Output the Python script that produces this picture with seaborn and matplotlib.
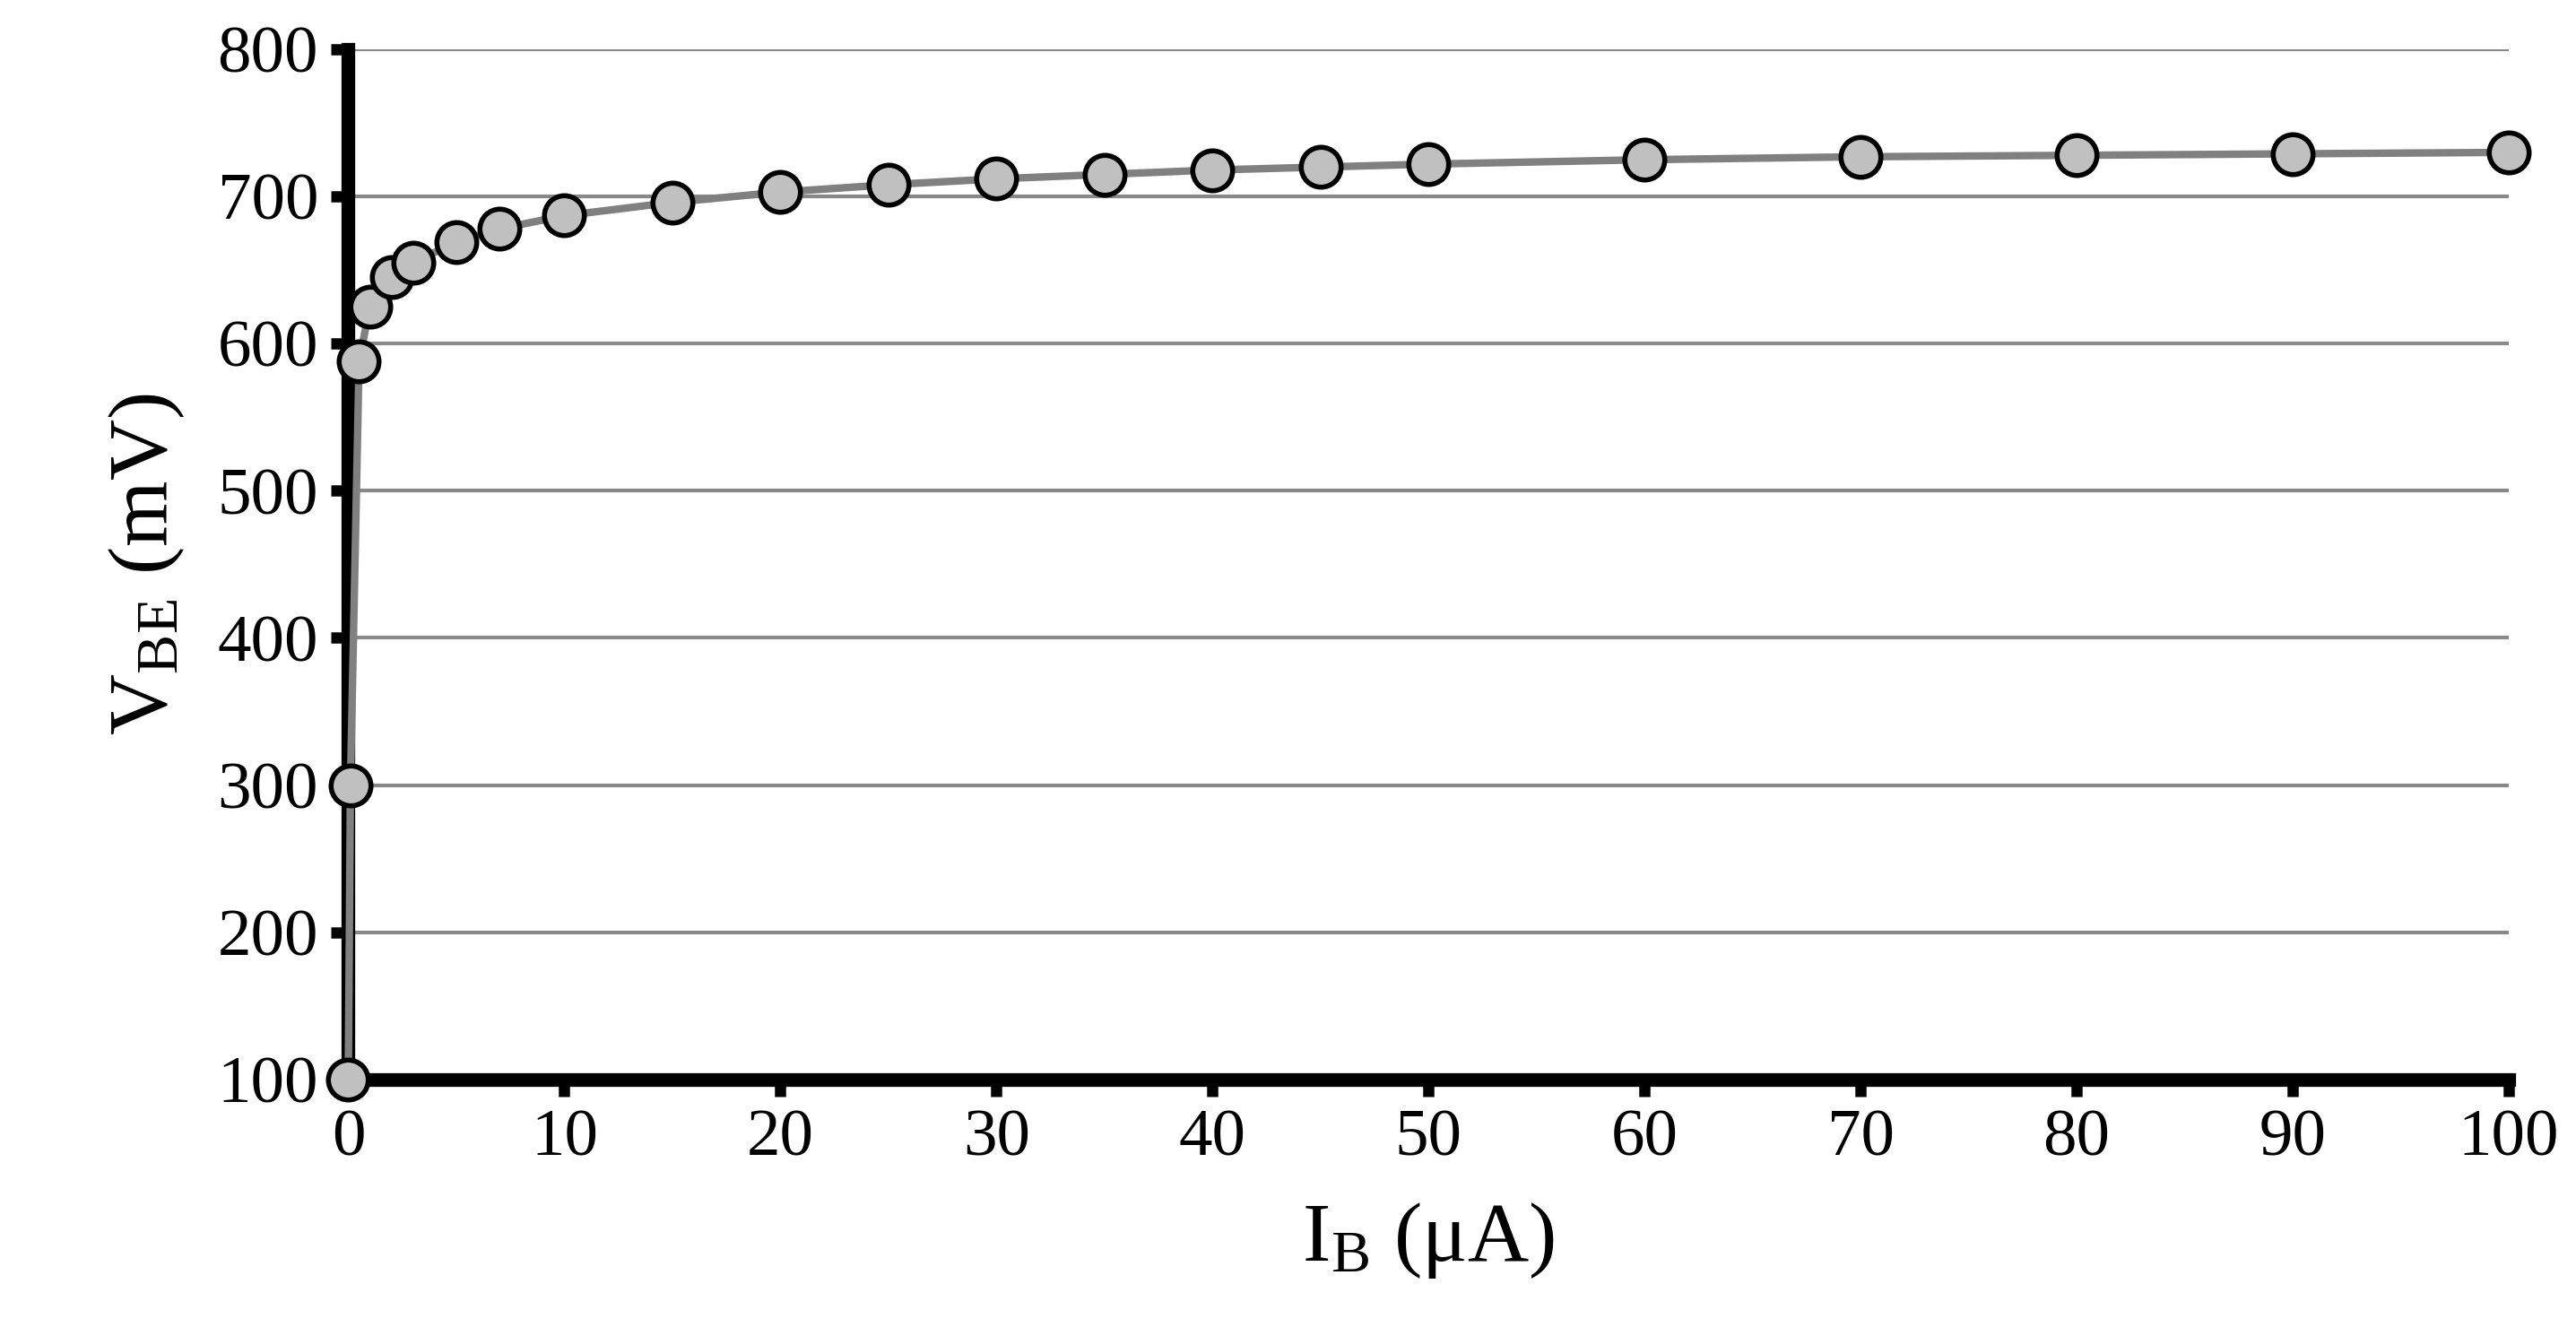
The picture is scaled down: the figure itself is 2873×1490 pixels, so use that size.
import numpy as np
import pandas as pd
import seaborn as sns
import matplotlib.pyplot as plt

# data
ib_ua = [0, 0.1, 0.5, 1, 2, 3, 5, 7, 10, 15, 20, 25, 30, 35, 40, 45, 50, 60, 70, 80, 90, 100]
vbe_mv = [100, 300, 588, 625, 645, 655, 669, 678, 687, 696, 703, 708, 712, 715, 718, 720, 722, 725, 727, 728, 729, 730]
x_ticks = [0, 10, 20, 30, 40, 50, 60, 70, 80, 90, 100]
y_ticks = [100, 200, 300, 400, 500, 600, 700, 800]

df = pd.DataFrame({'IB': ib_ua, 'VBE': vbe_mv})

sns.set_style('white')
plt.rcParams['font.family'] = ['Liberation Serif', 'DejaVu Serif']
plt.rcParams['mathtext.fontset'] = 'custom'
plt.rcParams['mathtext.rm'] = 'Liberation Serif'
plt.rcParams['xtick.bottom'] = True
plt.rcParams['ytick.left'] = True

fig = plt.figure(figsize=(28.73, 14.90), dpi=100)
ax = fig.add_axes([212/1568, 1 - 656/812, (1527-212)/1568, (656-30)/812])

for y in y_ticks[1:]:
    ax.axhline(y, color='#888888', lw=3, zorder=0)

sns.lineplot(data=df, x='IB', y='VBE', ax=ax, color='#808080', lw=6,
             marker='o', markersize=32, markerfacecolor='#c0c0c0',
             markeredgecolor='black', markeredgewidth=4, clip_on=False)

ax.set_xlim(0, 100)
ax.set_ylim(100, 800)
ax.set_xticks(x_ticks)
ax.set_yticks(y_ticks)
ax.tick_params(labelsize=54, length=14, width=9, direction='out', pad=10,
               color='black', labelcolor='black')

for side in ['top', 'right']:
    ax.spines[side].set_visible(False)
for side in ['left', 'bottom']:
    ax.spines[side].set_linewidth(11)
    ax.spines[side].set_color('black')
    ax.spines[side].set_zorder(1)

ax.set_xlabel(r'I$\mathrm{_B}$ ($\mathrm{\mu}$A)', fontsize=68, labelpad=25, color='black')
ax.set_ylabel(r'V$\mathrm{_{BE}}$ (mV)', fontsize=68, labelpad=25, color='black')

fig.savefig('out.png', dpi=100)
